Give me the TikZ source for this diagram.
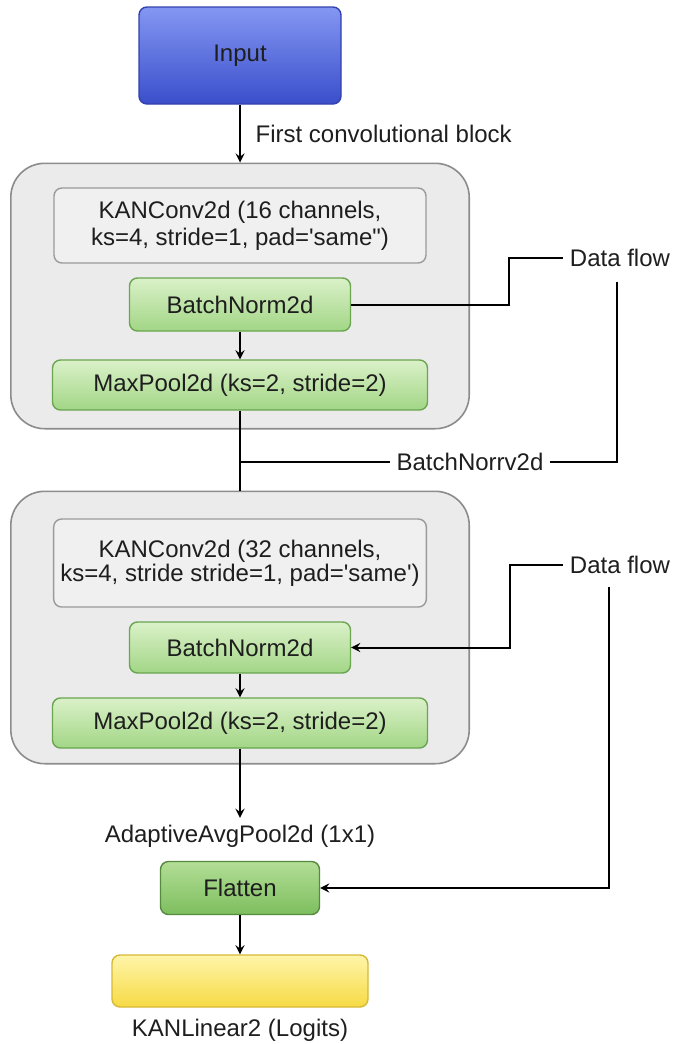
\documentclass[tikz,border=0pt]{standalone}
\usepackage{fontspec}
\setmainfont{Liberation Sans}
\usetikzlibrary{positioning, arrows, fit, backgrounds}

\definecolor{inkgray}{HTML}{1E1E1E}
\definecolor{inputtop}{HTML}{8497F2}
\definecolor{inputbot}{HTML}{3A4ECB}
\definecolor{inputedge}{HTML}{3241AE}
\definecolor{groupfill}{HTML}{EBEBEB}
\definecolor{groupedge}{HTML}{8C8C8C}
\definecolor{convfill}{HTML}{F0F0F0}
\definecolor{convedge}{HTML}{9A9A9A}
\definecolor{layertop}{HTML}{DAF1C8}
\definecolor{layerbot}{HTML}{A2D686}
\definecolor{layeredge}{HTML}{6AA550}
\definecolor{flattop}{HTML}{B2DE96}
\definecolor{flatbot}{HTML}{7DBE5E}
\definecolor{flatedge}{HTML}{558A3F}
\definecolor{outtop}{HTML}{FFF5AA}
\definecolor{outbot}{HTML}{F6DA44}
\definecolor{outedge}{HTML}{D6B937}

\tikzstyle{inputbox} = [rectangle, rounded corners=4pt, minimum width=101pt, minimum height=48.5pt, top color=inputtop, bottom color=inputbot, draw=inputedge, line width=0.7pt]
\tikzstyle{convbox} = [rectangle, rounded corners=4pt, minimum width=186pt, fill=convfill, draw=convedge, line width=0.7pt, align=center]
\tikzstyle{layerbox} = [rectangle, rounded corners=4pt, minimum height=26.5pt, top color=layertop, bottom color=layerbot, draw=layeredge, line width=0.7pt]
\tikzstyle{outbox} = [rectangle, rounded corners=4pt, minimum width=128pt, minimum height=26pt, top color=outtop, bottom color=outbot, draw=outedge, line width=0.7pt]
\tikzstyle{blockframe} = [rectangle, rounded corners=17pt, fill=groupfill, draw=groupedge, line width=0.8pt, inner xsep=20.5pt, inner ysep=10.5pt]
\tikzstyle{arrow} = [line width=1pt,->,>=stealth]
\tikzstyle{link} = [line width=1pt]

\begin{document}
\begin{tikzpicture}[x=0.5pt, y=-0.5pt, every node/.style={font=\fontsize{12}{14}\selectfont, text=inkgray}]

\begin{scope}[on background layer]
\fill[white] (0,0) rectangle (676,1044);
\end{scope}
\useasboundingbox (0,0) rectangle (676,1044);

\node (input) [inputbox] at (240,55.5) {Input};

% first convolutional block
\node (kanA) [convbox, minimum height=37.5pt, font=\fontsize{12}{13.5}\selectfont] at (240,225.5) {KANConv2d (16 channels,\\ks=4, stride=1, pad=\textquotesingle same\textquotedbl)};
\node (normA) [layerbox, minimum width=110.5pt] at (240,304.5) {BatchNorm2d};
\node (poolA) [layerbox, minimum width=187.5pt, minimum height=25pt] at (240,385) {MaxPool2d (ks=2, stride=2)};

% second convolutional block
\node (kanB) [convbox, minimum height=44pt, font=\fontsize{12}{10.5}\selectfont] at (240,563) {KANConv2d (32 channels,\\ks=4, stride stride=1, pad=\textquotesingle same\textquotesingle)};
\node (normB) [layerbox, minimum width=110.5pt, minimum height=25.5pt] at (240,647.5) {BatchNorm2d};
\node (poolB) [layerbox, minimum width=187.5pt, minimum height=25pt] at (240,723) {MaxPool2d (ks=2, stride=2)};

% head
\node (avgpool) at (240,836) {AdaptiveAvgPool2d (1x1)};
\node (flatten) [layerbox, minimum width=79.5pt, top color=flattop, bottom color=flatbot, draw=flatedge] at (240,888) {Flatten};
\node (logits) [outbox] at (240,981) {};
\node (logitsLbl) [below=2pt of logits] {KANLinear2 (Logits)};

% side notes
\node (flowA) at (620,258) {Data flow};
\node (flowB) at (620,565) {Data flow};
\node (normLbl) at (470,462) {BatchNorrv2d};
\coordinate (tailA) at (617,282);
\coordinate (tailB) at (609,587);
\coordinate (jointA) at (240,462);

\begin{scope}[on background layer]
\node (blockA) [blockframe, yshift=1.5pt, fit=(kanA) (normA) (poolA)] {};
\node (blockB) [blockframe, yshift=3pt, fit=(kanB) (normB) (poolB)] {};
\end{scope}

\draw [arrow] (input) -- node[anchor=west, xshift=4pt] (firstLbl) {First convolutional block} (input.south |- blockA.north);
\draw [arrow] (normA) -- (poolA);
\draw [link] (normA.east) -- ++(158,0) |- (flowA.west);
\draw [link] (poolA) -- (poolA.south |- blockB.north);
\draw [link] (jointA) -- (normLbl.west);
\draw [link] (normLbl.east) -| (tailA);

\draw [arrow] (normB) -- (poolB);
\draw [arrow] (flowB.west) -- ++(-53,0) |- (normB.east);
\draw [arrow] (poolB) -- (avgpool);
\draw [arrow] (tailB) |- (flatten.east);
\draw [arrow] (flatten) -- (logits);

\end{tikzpicture}
\end{document}
